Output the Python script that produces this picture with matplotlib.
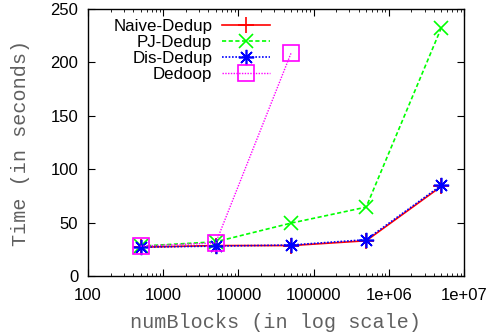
import matplotlib
matplotlib.use('Agg')
from matplotlib import pyplot as plt

blocks = [500, 5000, 50000, 500000, 5000000]
naive = [27, 28.5, 28.5, 33, 84]
pj = [28, 32, 49.5, 64.5, 232.5]
dis = [27, 28, 29, 34, 85]
dedoop_x = [500, 5000, 50000]
dedoop = [28, 31, 208.5]

plt.rcParams['font.family'] = ['Liberation Sans', 'DejaVu Sans']

fig = plt.figure(figsize=(4.9, 3.35), dpi=100)
ax = fig.add_axes([88 / 490, 1 - 276 / 335, 376 / 490, 267 / 335])

ax.plot(blocks, naive, color='#ff0000', lw=1.2, marker='+', ms=11, mew=1.2,
        label='Naive-Dedup')
ax.plot(blocks, pj, color='#00ff00', lw=1.2, ls=(0, (2.5, 1.5)), marker='x', ms=10,
        mew=1.2, label='PJ-Dedup')
ax.plot(blocks, dis, color='#0000ff', lw=1.2, ls=(0, (1, 1)), marker=(8, 2, 0), ms=11,
        mew=1.2, label='Dis-Dedup')
ax.plot(dedoop_x, dedoop, color='#ff00ff', lw=1.0, ls=(0, (1, 1)), marker='s', ms=11,
        mew=1.2, mfc='none', label='Dedoop')

ax.set_xscale('log')
ax.set_xlim(100, 1e7)
ax.set_ylim(0, 250)
ax.set_xticks([100, 1000, 10000, 100000, 1e6, 1e7])
ax.set_xticklabels(['100', '1000', '10000', '100000', '1e+06', '1e+07'])
ax.set_yticks([0, 50, 100, 150, 200, 250])
ax.tick_params(which='both', direction='in', top=True, right=True, labelsize=12)
ax.tick_params(axis='x', which='major', pad=9)
ax.tick_params(axis='y', which='major', pad=7)
ax.tick_params(which='major', length=5)
ax.tick_params(which='minor', length=2.5)
for s in ax.spines.values():
    s.set_linewidth(1.0)

ax.set_xlabel('numBlocks (in log scale)', family='Liberation Mono', fontsize=14.5,
              color='#606060')
ax.set_ylabel('Time (in seconds)', family='Liberation Mono', fontsize=14.5,
              color='#606060')
ax.xaxis.set_label_coords(0.5, -(313 - 276) / 267)
ax.yaxis.set_label_coords(-(88 - 30) / 376, 0.5)

ax.legend(loc='upper left', markerfirst=False, frameon=False, fontsize=12.2,
          handlelength=2.8, borderpad=0.1, labelspacing=0.05, handletextpad=0.6,
          bbox_to_anchor=(15 / 376, 1.0))

fig.savefig('out.png', dpi=100)
